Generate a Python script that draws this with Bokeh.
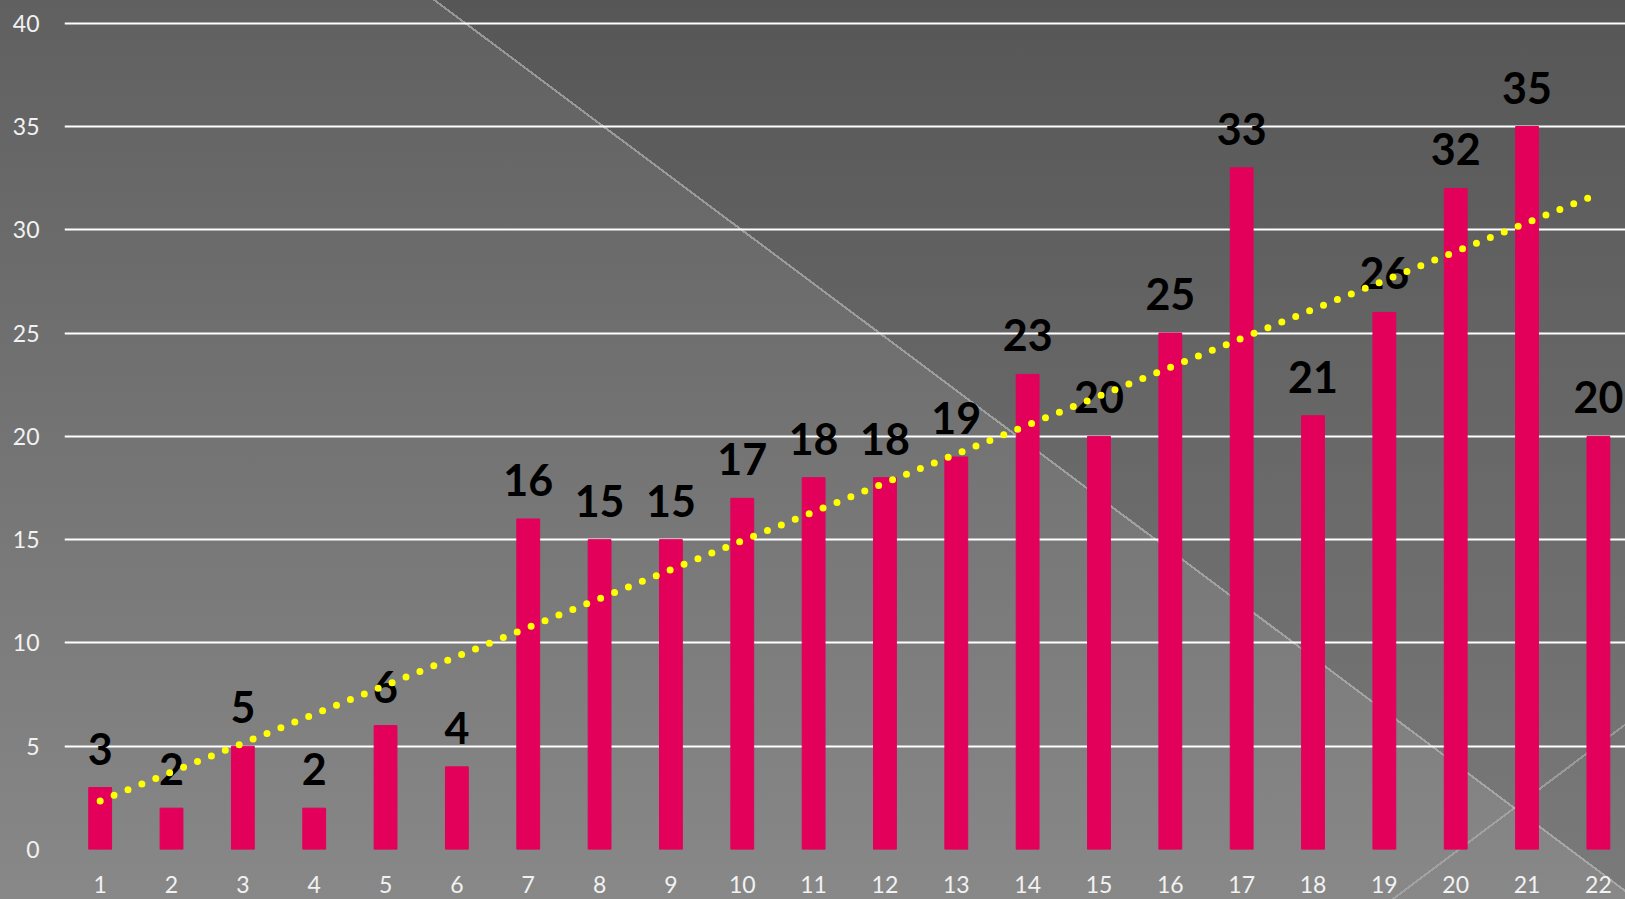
import numpy as np
from bokeh.plotting import figure
from bokeh.models import Range1d, FixedTicker, ColumnDataSource
from bokeh.core.properties import value
from bokeh.embed import file_html
from bokeh.resources import INLINE

categories = list(range(1, 23))
values = [3, 2, 5, 2, 6, 4, 16, 15, 15, 17, 18, 18, 19, 23, 20, 25, 33, 21, 26, 32, 35, 20]
y_ticks = [0, 5, 10, 15, 20, 25, 30, 35, 40]

labels = [str(v) for v in values]
src = ColumnDataSource(dict(x=categories, top=values, label=labels))

# linear trendline from the data
coef = np.polyfit(categories, values, 1)
trend_x = [categories[0], categories[-1]]
trend_y = [coef[0] * xx + coef[1] for xx in trend_x]

p = figure(width=1625, height=899, output_backend="svg", toolbar_location=None,
           x_range=Range1d(0.5, 22.38), y_range=Range1d(0, 41.1),
           min_border_left=64, min_border_right=0, min_border_top=0, min_border_bottom=50)

p.styles = {
    "background": (
        "linear-gradient(36.8deg, rgba(0,0,0,0) 57.82%, rgba(190,190,190,0.6) 57.82%, "
        "rgba(190,190,190,0.6) 57.94%, rgba(0,0,0,0) 57.94%),"
        "linear-gradient(143.1deg, rgba(0,0,0,0) 91.72%, rgba(190,190,190,0.5) 91.72%, "
        "rgba(190,190,190,0.5) 91.84%, rgba(0,0,0,0) 91.84%),"
        "linear-gradient(36.8deg, rgba(0,0,0,0) 57.9%, rgba(0,0,0,0.1) 57.9%),"
        "linear-gradient(to bottom, #606060, #888888)"
    )
}
p.background_fill_alpha = 0
p.border_fill_alpha = 0
p.outline_line_color = None

p.vbar(x="x", top="top", width=0.32, source=src, color="#E3005B")

p.text(x="x", y="top", text="label", source=src, text_align="center",
       text_baseline="alphabetic", y_offset=-39, text_font=value("Lato"),
       text_font_style="bold", text_font_size="43px", text_color="#000000")

p.line(trend_x, trend_y, line_color="#FFFF00", line_width=7, line_dash="0 15",
       line_cap="round")

p.xgrid.grid_line_color = None
p.ygrid.grid_line_color = "#ffffff"
p.ygrid.grid_line_width = 2
p.ygrid.ticker = FixedTicker(ticks=y_ticks)

p.yaxis.ticker = FixedTicker(ticks=y_ticks)
p.xaxis.ticker = FixedTicker(ticks=categories)
for ax in (p.xaxis, p.yaxis):
    ax.axis_line_color = None
    ax.major_tick_line_color = None
    ax.minor_tick_line_color = None
    ax.major_label_text_color = "#f2f2f2"
    ax.major_label_text_font = "Lato"
    ax.major_label_text_font_size = "23px"
p.yaxis.major_label_standoff = 19
p.xaxis.major_label_standoff = 20

open("out.html", "w").write(file_html(p, INLINE))
